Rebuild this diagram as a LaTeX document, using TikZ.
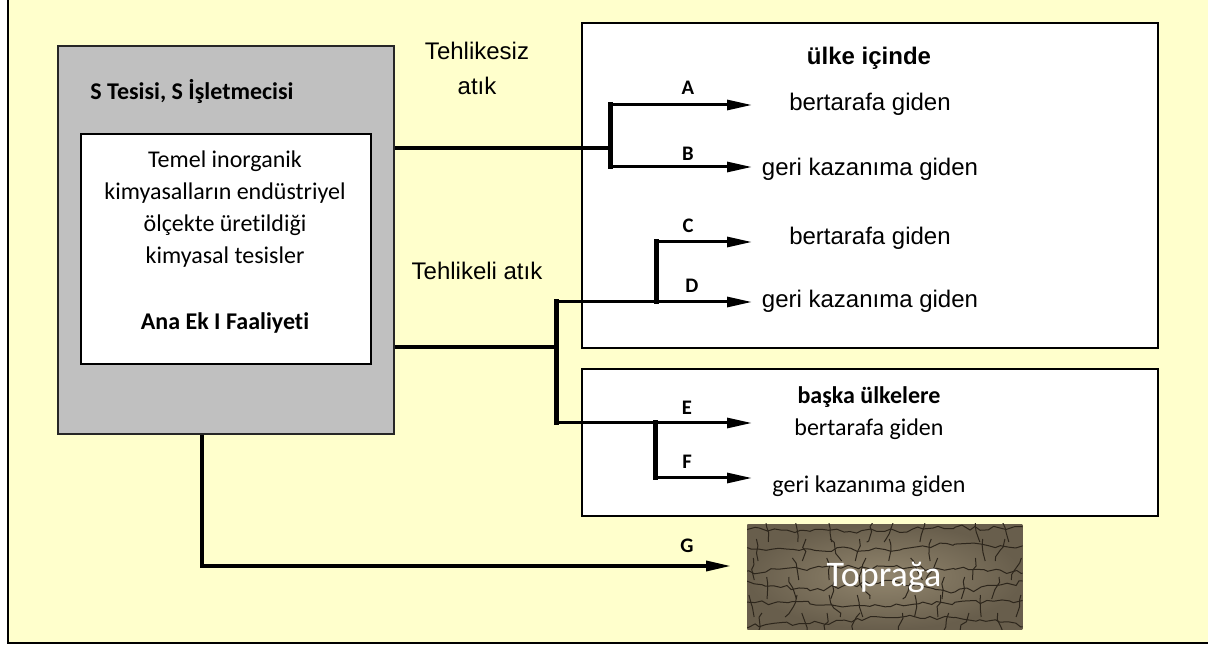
\documentclass[tikz,border=0pt]{standalone}
\usepackage{fontspec}
\setmainfont{Liberation Sans}
\newfontfamily\calibri[Ligatures=NoCommon]{Carlito}
\usetikzlibrary{arrows.meta,decorations.pathmorphing}
\definecolor{bgyellow}{RGB}{255,255,204}
\definecolor{boxgray}{RGB}{192,192,192}
\definecolor{soilin}{RGB}{146,134,110}
\definecolor{soilout}{RGB}{104,94,76}
\definecolor{crackc}{RGB}{45,38,28}
\begin{document}
\begin{tikzpicture}[x=0.75pt,y=-0.75pt,
  panel/.style={draw=black,line width=1.5pt,fill=white,inner sep=0pt,anchor=north west},
  opbox/.style={draw=black!85,line width=1.5pt,fill=boxgray,inner sep=0pt,anchor=north west},
  arl/.style={font=\fontsize{18}{20}\selectfont,anchor=base,inner sep=0pt},
  arlb/.style={font=\bfseries\fontsize{18}{20}\selectfont,anchor=base,inner sep=0pt},
  cal/.style={font=\calibri\fontsize{18}{24}\selectfont,anchor=base,inner sep=0pt,align=center},
  calb/.style={font=\calibri\bfseries\fontsize{18}{24}\selectfont,anchor=base,inner sep=0pt},
  lbl/.style={font=\calibri\bfseries\fontsize{15.5}{17}\selectfont,anchor=base,inner sep=0pt},
  mainln/.style={line width=3.4pt},
  branch/.style={line width=3.75pt,line cap=rect},
  arr/.style={line width=2.25pt,-{Triangle[length=18.75pt,width=7.5pt]}},
  crackline/.style={draw=crackc,line width=0.75pt,decorate,decoration={random steps,segment length=5pt,amplitude=1.8pt}}
]
\useasboundingbox (0,0) rectangle (1208,645);
\fill[bgyellow] (8,0) rectangle (1208,643);
\draw[line width=1.5pt] (8,0) -- (8,643) -- (1208,643);

% boxes
\node[opbox,minimum width=252pt,minimum height=291pt] (op) at (57,45) {};
\node[panel,line width=1.2pt,minimum width=217.5pt,minimum height=172.5pt] (inner) at (80,133) {};
\node[panel,minimum width=432pt,minimum height=243.75pt] (home) at (581,22) {};
\node[panel,minimum width=432pt,minimum height=110.25pt] (abroad) at (581,368) {};
\node[inner sep=0pt,anchor=north west,minimum width=206.25pt,minimum height=78.75pt,
      inner color=soilin,outer color=soilout] (soil) at (747,524) {};
\begin{scope}
  \clip (soil.north west) rectangle (soil.south east);
  \pgfmathsetseed{7}
  \foreach \yy in {530,549,568,586,604,622} {
    \pgfmathsetmacro\ya{\yy+rand*6}
    \pgfmathsetmacro\yb{\yy+rand*6}
    \pgfmathsetmacro\yc{\yy+rand*6}
    \pgfmathsetmacro\yd{\yy+rand*6}
    \draw[crackline] (740,\ya) -- (810,\yb) -- (885,\yc) -- (955,\yd) -- (1030,\ya);
  }
  \foreach \yy in {520,539,558,577,595,613} {
    \foreach \k in {0,...,7} {
      \pgfmathsetmacro\xx{745+\k*36+rnd*26}
      \pgfmathsetmacro\dx{rand*12}
      \draw[crackline] (\xx,\yy) -- (\xx+\dx,\yy+22);
    }
  }
\end{scope}

% texts in the operator box
\node[calb] (optitle) at (192,100) {S Tesisi, S İşletmecisi};
\node[cal] (activity) at (225,264) {Temel inorganik\\kimyasalların endüstriyel\\ölçekte üretildiği\\kimyasal tesisler};
\node[calb] (annex) at (225,330) {Ana Ek I Faaliyeti};

% waste type labels
\node[arl] (nh1) at (477,60) {Tehlikesiz};
\node[arl] (nh2) at (477,95) {atık};
\node[arl] (hz) at (477,280) {Tehlikeli atık};

% destination texts
\node[arlb] (hometitle) at (869,65) {ülke içinde};
\node[arl] (tA) at (870,111) {bertarafa giden};
\node[arl] (tB) at (870,176) {geri kazanıma giden};
\node[arl] (tC) at (870,245) {bertarafa giden};
\node[arl] (tD) at (870,308) {geri kazanıma giden};
\node[calb] (abroadtitle) at (869,404) {başka ülkelere};
\node[cal] (tE) at (869,436) {bertarafa giden};
\node[cal] (tF) at (869,493) {geri kazanıma giden};
\node[font=\calibri\fontsize{27}{30}\selectfont,text=white,anchor=base,inner sep=0pt] (tG) at (884,586) {Toprağa};

% branch letters
\node[lbl] (lA) at (688,95) {A};
\node[lbl] (lB) at (688,161) {B};
\node[lbl] (lC) at (688,233) {C};
\node[lbl] (lD) at (692,293) {D};
\node[lbl] (lE) at (687,415) {E};
\node[lbl] (lF) at (687,469) {F};
\node[lbl] (lG) at (687,552) {G};

% junction coordinates
\coordinate (nj) at (610,148);
\coordinate (a0) at (610,105);
\coordinate (b0) at (610,167);
\coordinate (aT) at (752,105);
\coordinate (bT) at (752,167);
\coordinate (hj) at (556,347);
\coordinate (d0) at (556,302);
\coordinate (e0) at (556,423);
\coordinate (c1) at (656,242);
\coordinate (d1) at (656,302);
\coordinate (cT) at (752,242);
\coordinate (dT) at (752,302);
\coordinate (e1) at (655,423);
\coordinate (f1) at (655,478);
\coordinate (eT) at (752,423);
\coordinate (fT) at (752,478);
\coordinate (g0) at (202,566);
\coordinate (gT) at (731,566);

% non-hazardous
\draw[mainln] (op.east |- nj) -- (nj);
\draw[branch] (a0) -- (b0);
\draw[arr] (a0) -- (aT);
\draw[arr] (b0) -- (bT);

% hazardous
\draw[mainln] (op.east |- hj) -- (hj);
\draw[branch] (d0) -- (e0);
\draw[arr] (d0) -- (dT);
\draw[branch] (c1) -- (d1);
\draw[arr] (c1) -- (cT);
\draw[arr] (e0) -- (eT);
\draw[branch] (e1) -- (f1);
\draw[arr] (f1) -- (fT);

% to soil
\draw[line width=3.6pt] (op.south -| g0) -- ([yshift=-1.4pt]g0);
\draw[arr,line width=2.6pt] (g0) -- (gT);
\end{tikzpicture}
\end{document}
